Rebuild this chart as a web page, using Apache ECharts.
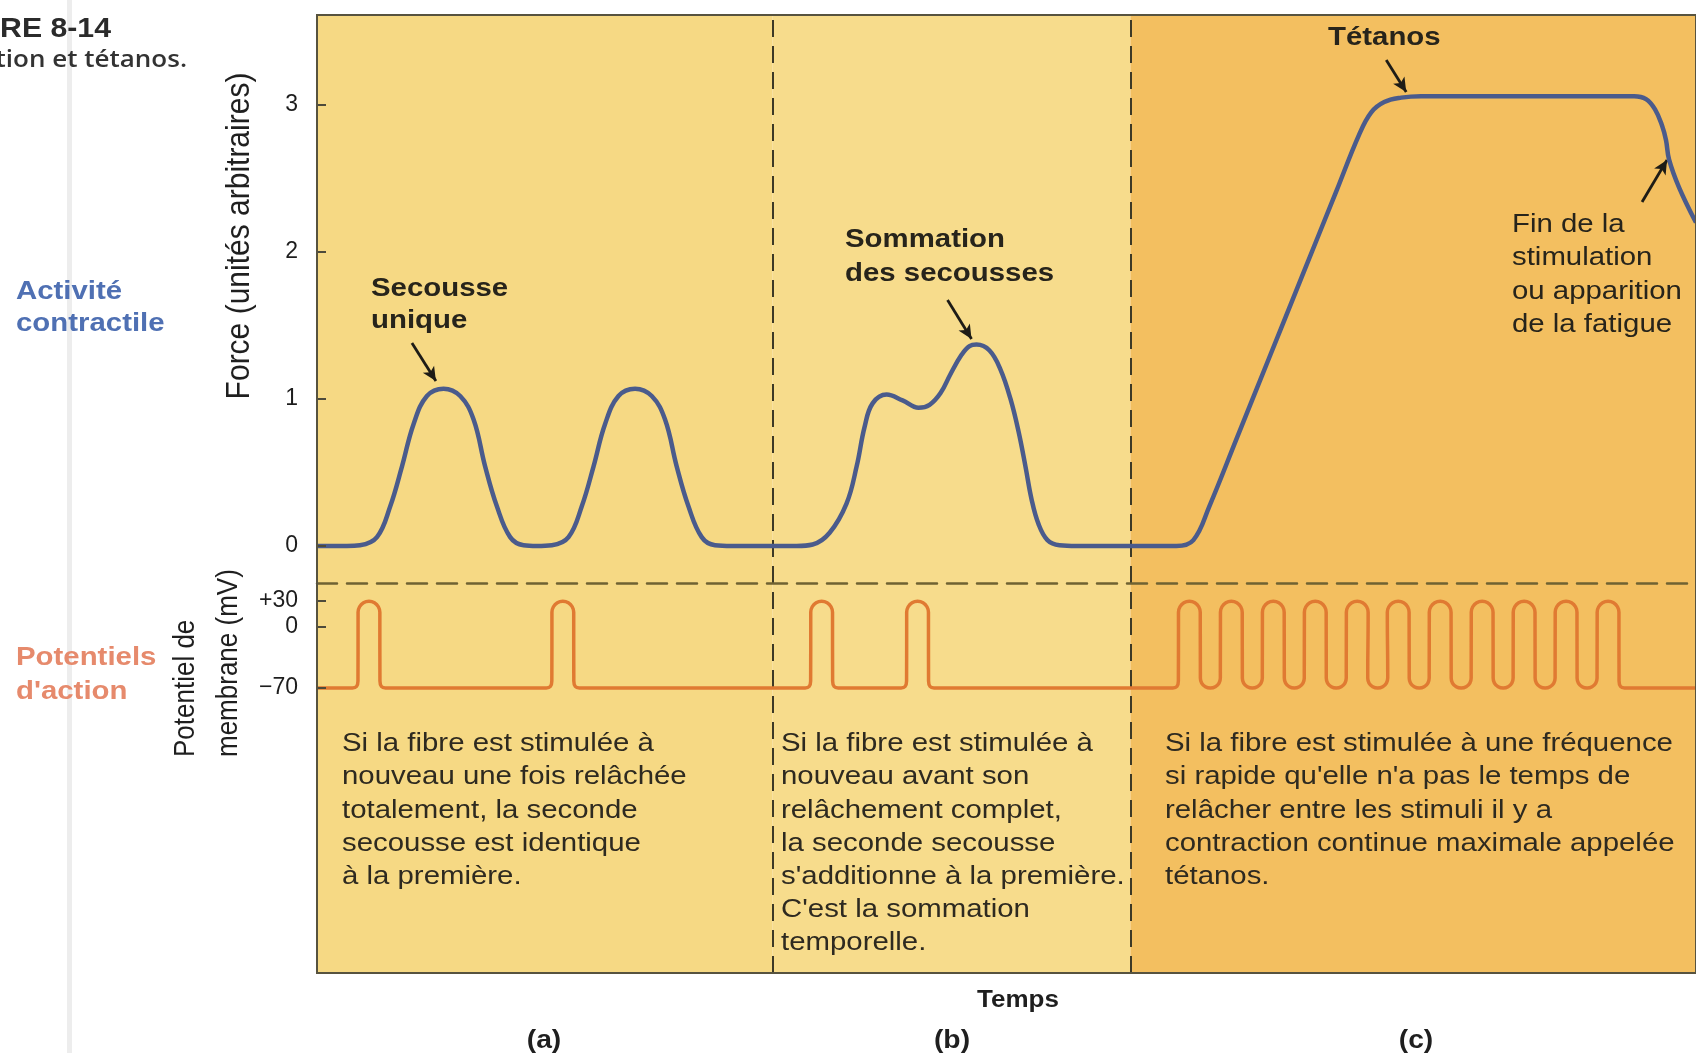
<!DOCTYPE html>
<html>
<head>
<meta charset="utf-8">
<title>Secousse, sommation et tétanos</title>
<script src="https://cdn.jsdelivr.net/npm/echarts@6/dist/echarts.min.js"></script>
<style>
  html, body { margin: 0; padding: 0; background: #ffffff; }
  #chart { width: 1696px; height: 1053px; }
</style>
</head>
<body>
<div id="chart"></div>
<script>
// ---- time axis (arbitrary units) and the three panels ----
const timeRange = [0, 138];
const panelEdges = [0, 45.6, 81.4, 138];
const panelLetters = ['(a)', '(b)', '(c)'];

// ---- contractile force (arbitrary units) ----
const forceRange = [-0.252, 3.612];
const forceTicks = [0, 1, 2, 3];
const forceCurve = [
  [0, 0], [3.0, 0], [4.3, 0.005], [6.0, 0.06], [7.33, 0.27], [8.5, 0.54], [9.67, 0.83], [11.0, 1.02],
  [12.67, 1.07], [14.33, 1.02], [15.67, 0.86], [16.83, 0.54], [18.0, 0.27], [19.33, 0.06], [20.67, 0.005], [22.0, 0],
  [23.5, 0.005], [25.17, 0.06], [26.5, 0.27], [27.67, 0.54], [28.83, 0.83], [30.17, 1.02], [31.83, 1.07],
  [33.5, 1.02], [34.83, 0.86], [36.0, 0.54], [37.17, 0.27], [38.5, 0.06], [39.83, 0.005], [41.5, 0],
  [48.0, 0], [49.6, 0.01], [51.3, 0.09], [53.0, 0.29], [54.0, 0.54], [54.8, 0.81], [55.6, 0.97], [57.0, 1.03],
  [58.6, 0.99], [60.2, 0.94], [61.3, 0.96], [62.4, 1.04], [63.4, 1.17], [64.5, 1.3], [65.3, 1.36], [66.0, 1.37],
  [67.3, 1.33], [68.4, 1.2], [69.4, 1.0], [70.2, 0.78], [70.9, 0.54], [71.5, 0.32], [72.2, 0.15], [73.1, 0.04],
  [74.3, 0.005], [76.0, 0],
  [86.0, 0], [87.7, 0.04], [89.3, 0.27], [92.0, 0.725], [95.3, 1.282], [98.6, 1.839], [102.0, 2.412], [104.3, 2.8],
  [105.5, 2.95], [106.8, 3.02], [108.5, 3.05], [110.5, 3.06], [131.8, 3.06], [133.0, 3.04], [133.9, 2.97],
  [134.6, 2.86], [135.0, 2.76], [135.3, 2.63], [136.3, 2.44], [138, 2.2]
];

// ---- membrane potential (mV) ----
const mvRange = [-397.7, 50.6];
const mvTicks = [30, 0, -70];
const restingPotential = -70;
const apPeakTimes = [5.2, 24.6, 50.5, 60.1, 87.3, 91.5, 95.7, 99.9, 104.1, 108.2, 112.4, 116.6, 120.8, 125.0, 129.2];
// action potential waveform, as [time offset from the peak, mV]
const spikeRise = [[-1.65, -70], [-1.25, -68.4], [-1.1, -62]];
const spikeTop = [[-1.09, 10], [-1.09, 17], [-0.94, 23.3], [-0.55, 27.9], [0, 29.5], [0.55, 27.9], [0.94, 23.3], [1.09, 17], [1.09, 10]];
const spikeFall = [[1.1, -62], [1.25, -68.4], [1.65, -70]];
// trough between two spikes of a train, offsets from the middle of the gap
const troughShape = [[-1.0, -52], [-1.0, -58.6], [-0.87, -64.4], [-0.5, -68.6], [0, -70.1], [0.5, -68.6], [0.87, -64.4], [1.0, -58.6], [1.0, -52]];

// ---- arrows: [tail, head] in (time, force) ----
const arrows = [
  [[9.5, 1.381], [11.9, 1.122]],
  [[63.1, 1.673], [65.5, 1.408]],
  [[107.0, 3.306], [109.0, 3.088]],
  [[132.6, 2.34], [135.1, 2.626]]
];

// ---- texts ----
const notes = [
  ['Si la fibre est stimulée à', 'nouveau une fois relâchée', 'totalement, la seconde', 'secousse est identique', 'à la première.'],
  ['Si la fibre est stimulée à', 'nouveau avant son', 'relâchement complet,', 'la seconde secousse', "s'additionne à la première.", "C'est la sommation", 'temporelle.'],
  ['Si la fibre est stimulée à une fréquence', "si rapide qu'elle n'a pas le temps de", 'relâcher entre les stimuli il y a', 'contraction continue maximale appelée', 'tétanos.']
];

// Build the action-potential trace from the peak times and the waveform
const isTrain = (a, b) => a !== undefined && b !== undefined && Math.abs(b - a) < 6;
const apTrace = [[timeRange[0], restingPotential]];
apPeakTimes.forEach((c, i) => {
  const prev = apPeakTimes[i - 1];
  const next = apPeakTimes[i + 1];
  if (!isTrain(prev, c)) spikeRise.forEach(([dt, v]) => apTrace.push([c + dt, v]));
  spikeTop.forEach(([dt, v]) => apTrace.push([c + dt, v]));
  if (isTrain(c, next)) {
    const mid = (c + next) / 2;
    troughShape.forEach(([dt, v]) => apTrace.push([mid + dt, v]));
  } else {
    spikeFall.forEach(([dt, v]) => apTrace.push([c + dt, v]));
  }
});
apTrace.push([timeRange[1], restingPotential]);

const FONT = '"Liberation Sans", Arial, Helvetica, sans-serif';
const INK = '#27241b';
const SX = 1.13; // lettering is set slightly wide

function textBlock(x, top, lines, font, fill, lineHeight) {
  return {
    type: 'text', x: x, y: top, scaleX: SX, silent: true, z: 50,
    style: { text: lines.join('\n'), font: font, fill: fill, align: 'left', verticalAlign: 'top', lineHeight: lineHeight }
  };
}
function centered(x, y, text, font, fill) {
  return {
    type: 'text', x: x, y: y, scaleX: SX, silent: true, z: 50,
    style: { text: text, font: font, fill: fill, align: 'center', verticalAlign: 'middle' }
  };
}
function rotated(x, y, text, font, fill, align) {
  return {
    type: 'text', x: x, y: y, rotation: Math.PI / 2, scaleY: SX, silent: true, z: 50,
    style: { text: text, font: font, fill: fill, align: align, verticalAlign: 'middle' }
  };
}

const noteX = [342, 781, 1165];
const letterX = [544, 952, 1416];

const graphic = [
  { type: 'rect', silent: true, z: 0, shape: { x: 67, y: 0, width: 5, height: 1053 }, style: { fill: 'rgba(190,190,190,0.28)' } },
  {
    type: 'text', x: 111, y: 29, scaleX: 1.08, silent: true, z: 50,
    style: { text: 'FIGURE 8-14', font: 'bold 28px ' + FONT, fill: '#2b2b2b', align: 'right', verticalAlign: 'middle' }
  },
  {
    type: 'text', x: 187, y: 60, scaleX: 1.13, silent: true, z: 50,
    style: { text: 'Secousse, sommation et tétanos.', font: '600 23px "Open Sans", ' + FONT, fill: '#333333', align: 'right', verticalAlign: 'middle' }
  },
  textBlock(16, 276, ['Activité', 'contractile'], 'bold 26px ' + FONT, '#4f70b3', 32),
  textBlock(16, 641, ['Potentiels', "d'action"], 'bold 26px ' + FONT, '#e68a6c', 34),
  rotated(240, 236, 'Force (unités arbitraires)', '30px ' + FONT, '#1f1f1f', 'center'),
  rotated(186, 757, 'Potentiel de', '26px ' + FONT, '#1f1f1f', 'left'),
  rotated(229, 757, 'membrane (mV)', '26px ' + FONT, '#1f1f1f', 'left'),
  textBlock(371, 273, ['Secousse', 'unique'], 'bold 26px ' + FONT, INK, 32),
  textBlock(845, 223, ['Sommation', 'des secousses'], 'bold 26px ' + FONT, INK, 34),
  textBlock(1328, 21, ['Tétanos'], 'bold 26px ' + FONT, INK, 34),
  textBlock(1512, 208, ['Fin de la', 'stimulation', 'ou apparition', 'de la fatigue'], '26px ' + FONT, INK, 33.5),
  centered(1018, 1001, 'Temps', 'bold 23px ' + FONT, '#1f1f1f')
];
notes.forEach((lines, i) => graphic.push(textBlock(noteX[i], 727.5, lines, '26px ' + FONT, '#2e2a20', 33.2)));
panelLetters.forEach((t, i) => graphic.push(centered(letterX[i], 1041, t, 'bold 25px ' + FONT, '#1f1f1f')));

const panelColors = ['#f6d984', '#f7dc8c', '#f3bf60'];

const tickStyle = { color: '#4d4a3a', width: 2 };
const labelStyle = { fontSize: 23, fontFamily: FONT, color: '#1d1d1d', margin: 19 };

const option = {
  animation: false,
  backgroundColor: '#ffffff',
  grid: [
    { left: 317, right: -1, top: 15, height: 568 },
    { left: 317, right: -1, top: 583, height: 390 },
    { left: 317, right: -1, top: 15, height: 958, show: true, z: 10, borderColor: '#57533f', borderWidth: 2, backgroundColor: 'transparent' }
  ],
  xAxis: [
    { gridIndex: 0, type: 'value', min: timeRange[0], max: timeRange[1], show: false },
    {
      gridIndex: 1, type: 'value', min: timeRange[0], max: timeRange[1], position: 'top', z: 6,
      axisLine: { show: true, onZero: false, lineStyle: { color: '#6f6232', width: 2.5, type: [20, 10] } },
      axisTick: { show: false }, axisLabel: { show: false }, splitLine: { show: false }
    },
    { gridIndex: 2, type: 'value', min: timeRange[0], max: timeRange[1], show: false }
  ],
  yAxis: [
    {
      gridIndex: 0, type: 'value', min: forceRange[0], max: forceRange[1], z: 6,
      axisLine: { show: false }, splitLine: { show: false },
      axisTick: { show: true, inside: true, length: 9, customValues: forceTicks, lineStyle: tickStyle },
      axisLabel: Object.assign({ customValues: forceTicks }, labelStyle)
    },
    {
      gridIndex: 1, type: 'value', min: mvRange[0], max: mvRange[1], z: 6,
      axisLine: { show: false }, splitLine: { show: false },
      axisTick: { show: true, inside: true, length: 9, customValues: mvTicks, lineStyle: tickStyle },
      axisLabel: Object.assign({
        customValues: mvTicks,
        formatter: v => (v > 0 ? '+' + v : v < 0 ? '\u2212' + Math.abs(v) : '0')
      }, labelStyle)
    },
    { gridIndex: 2, type: 'value', min: 0, max: 1, show: false }
  ],
  series: [
    {
      name: 'panels', type: 'line', xAxisIndex: 2, yAxisIndex: 2, z: 1,
      data: [[timeRange[0], 0]], showSymbol: false, symbol: 'none', lineStyle: { opacity: 0 }, silent: true,
      markArea: {
        silent: true,
        data: panelColors.map((c, i) => [
          { xAxis: panelEdges[i], itemStyle: { color: c, opacity: 1 } },
          { xAxis: panelEdges[i + 1] }
        ])
      },
      markLine: {
        silent: true, symbol: 'none', label: { show: false },
        lineStyle: { color: '#3d3926', width: 2, type: [17, 9] },
        data: panelEdges.slice(1, -1).map(x => ({ xAxis: x }))
      }
    },
    {
      name: 'Activité contractile', type: 'line', xAxisIndex: 0, yAxisIndex: 0, z: 5,
      data: forceCurve, smooth: 0.4, symbol: 'none',
      lineStyle: { color: '#4a5b8c', width: 4.5 },
      markLine: {
        silent: true, symbol: ['none', 'arrow'], symbolSize: [10, 14], label: { show: false },
        lineStyle: { color: '#1e1c16', width: 2.8, type: 'solid' },
        data: arrows.map(([a, b]) => [{ coord: a }, { coord: b }])
      }
    },
    {
      name: "Potentiels d'action", type: 'line', xAxisIndex: 1, yAxisIndex: 1, z: 5,
      data: apTrace, smooth: 0.5, symbol: 'none',
      lineStyle: { color: '#e07a32', width: 3.5 }
    }
  ],
  graphic: graphic
};

const chart = echarts.init(document.getElementById('chart'));
chart.setOption(option);
</script>
</body>
</html>
